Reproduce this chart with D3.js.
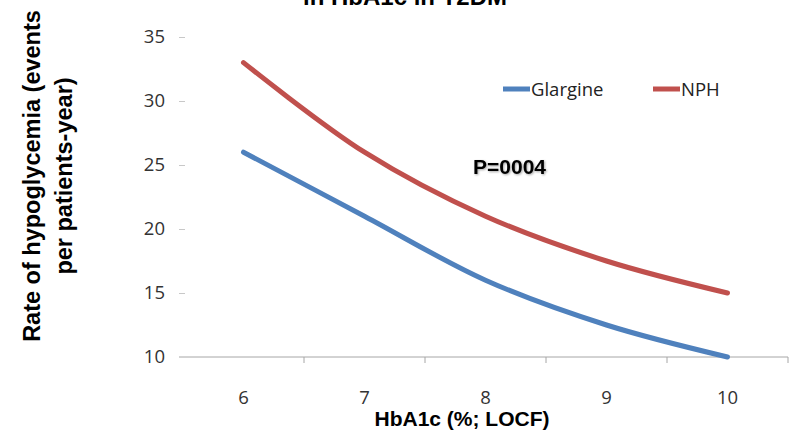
<!DOCTYPE html>
<html>
<head>
<meta charset="utf-8">
<script src="https://cdn.jsdelivr.net/npm/d3@7"></script>
<style>
  html, body { margin: 0; padding: 0; background: #fff; }
  svg { display: block; }
</style>
</head>
<body>
<svg id="chart" width="792" height="431"></svg>
<script>
const categories = ["6", "7", "8", "9", "10"];
const glargine = [26, 21, 16, 12.5, 10];
const nph = [33, 26, 21, 17.5, 15];
const yTicks = [10, 15, 20, 25, 30, 35];
const seriesNames = ["Glargine", "NPH"];
const seriesColors = ["#4F81BD", "#C0504D"];

const svg = d3.select("#chart");
const W = 792, H = 431;
svg.append("rect").attr("width", W).attr("height", H).attr("fill", "#fff");

const x = d3.scaleBand().domain(categories).range([183, 788]).padding(0);
const y = d3.scaleLinear().domain([10, 35]).range([357, 37]);

const tickFont = "'Open Sans', Lato, sans-serif";
const boldFont = "'Liberation Sans', Arial, sans-serif";

// Title (clipped at top, as in the reference)
svg.append("text")
  .attr("x", 405).attr("y", 5)
  .attr("text-anchor", "middle")
  .attr("font-family", boldFont)
  .attr("font-weight", "bold")
  .attr("font-size", 24)
  .attr("fill", "#000")
  .text("in HbA1c in T2DM");

// Y axis ticks (no line)
const yAxis = d3.axisLeft(y).tickValues(yTicks).tickSize(6).tickPadding(14).tickFormat(d3.format("d"));
const gy = svg.append("g").attr("transform", "translate(185,0)").call(yAxis);
gy.select(".domain").remove();
gy.selectAll(".tick line").attr("stroke", "#c8c8c8");
gy.selectAll(".tick text")
  .attr("font-family", tickFont)
  .attr("font-size", 18.5).attr("fill", "#333");
gy.selectAll(".tick").filter(d => d === 10).select("line").remove();

// X axis
const gx = svg.append("g").attr("transform", "translate(0,357)");
gx.append("line").attr("x1", 179).attr("x2", 788).attr("y1", 0).attr("y2", 0).attr("stroke", "#a6a6a6").attr("stroke-width", 1);
const boundaries = categories.map(c => x(c) + x.bandwidth());
gx.selectAll("line.tk").data(boundaries).enter().append("line")
  .attr("class", "tk")
  .attr("x1", d => d).attr("x2", d => d).attr("y1", 0).attr("y2", 6)
  .attr("stroke", "#a6a6a6");
gx.selectAll("text.lbl").data(categories).enter().append("text")
  .attr("class", "lbl")
  .attr("x", d => x(d) + x.bandwidth() / 2)
  .attr("y", 47)
  .attr("text-anchor", "middle")
  .attr("font-family", tickFont)
  .attr("font-size", 18.5).attr("fill", "#333")
  .text(d => d);

// X axis title
svg.append("text")
  .attr("x", 462).attr("y", 426)
  .attr("text-anchor", "middle")
  .attr("font-family", boldFont)
  .attr("font-weight", "bold").attr("font-size", 21)
  .attr("fill", "#000")
  .text("HbA1c (%; LOCF)");

// Y axis title
const yt = svg.append("text")
  .attr("transform", "translate(0,176) rotate(-90)")
  .attr("text-anchor", "middle")
  .attr("font-family", boldFont)
  .attr("font-weight", "bold").attr("font-size", 23.5)
  .attr("fill", "#000");
yt.append("tspan").attr("x", 0).attr("y", 40).text("Rate of hypoglycemia (events");
yt.append("tspan").attr("x", 0).attr("y", 72).text("per patients-year)");

// Lines
const line = d3.line()
  .x((d, i) => x(categories[i]) + x.bandwidth() / 2)
  .y(d => y(d))
  .curve(d3.curveCatmullRom.alpha(0.5));
[glargine, nph].forEach((s, i) => {
  svg.append("path").datum(s)
    .attr("d", line)
    .attr("fill", "none")
    .attr("stroke", seriesColors[i])
    .attr("stroke-width", 5)
    .attr("stroke-linecap", "round");
});

// Legend
const legendX = [503, 653];
seriesNames.forEach((n, i) => {
  const g = svg.append("g");
  g.append("line").attr("x1", legendX[i]).attr("x2", legendX[i] + 27)
    .attr("y1", 89).attr("y2", 89)
    .attr("stroke", seriesColors[i]).attr("stroke-width", 5);
  g.append("text").attr("x", legendX[i] + 28).attr("y", 95.5)
    .attr("font-family", tickFont)
    .attr("font-size", 18.5).attr("fill", "#222")
    .text(n);
});

// P value annotation
svg.append("text")
  .attr("x", 473).attr("y", 174)
  .attr("font-family", boldFont)
  .attr("font-weight", "bold").attr("font-size", 21)
  .attr("fill", "#000")
  .style("filter", "drop-shadow(1px 1px 1px rgba(0,0,0,0.35))")
  .text("P=0004");
</script>
</body>
</html>
